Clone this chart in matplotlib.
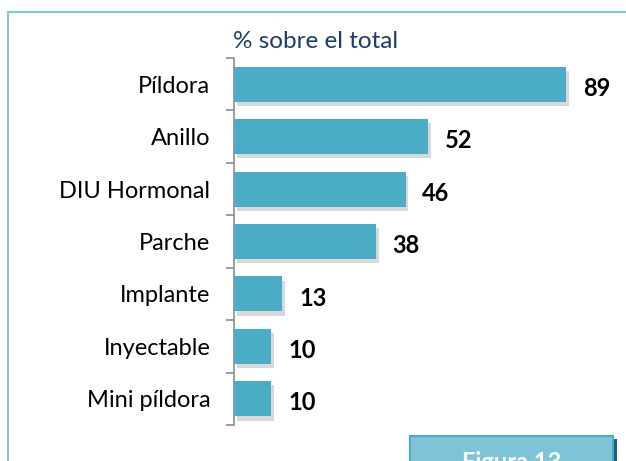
import matplotlib.pyplot as plt
import matplotlib.patheffects as pe
from matplotlib.patches import Rectangle

plt.rcParams['font.family'] = ['Lato', 'DejaVu Sans']

# datos
metodos = ['Píldora', 'Anillo', 'DIU Hormonal', 'Parche', 'Implante', 'Inyectable', 'Mini píldora']
valores = [89, 52, 46, 38, 13, 10, 10]

bar_color = '#4BACC6'

fig = plt.figure(figsize=(6.26, 4.61), dpi=100)
W, H = 626, 461

# marco exterior
fig.add_artist(Rectangle((8 / W, -0.1), 1.0, (H - 12) / H + 0.1, transform=fig.transFigure,
                         fill=False, edgecolor='#86C9D8', linewidth=1.5))

ax = fig.add_axes([234 / W, 1 - 425 / H, (607 - 234) / W, (425 - 58) / H])

y = list(range(len(metodos)))
bars = ax.barh(y, valores, height=0.67, color=bar_color, zorder=3)
for b in bars:
    b.set_path_effects([pe.SimplePatchShadow(offset=(2, -3), shadow_rgbFace='#808080', alpha=0.3),
                        pe.Normal()])

for yi, v in zip(y, valores):
    ax.text(v + 4.5, yi + 0.08, str(v), va='center', ha='left', fontsize=17, fontweight='bold', color='black')

ax.set_xlim(0, 100)
ax.set_ylim(len(metodos) - 0.5, -0.5)
ax.set_yticks([i - 0.5 for i in range(len(metodos) + 1)], minor=False)
ax.set_yticklabels([])
ax.set_yticks(y, minor=True)
ax.set_yticklabels(metodos, minor=True, fontsize=17)
ax.tick_params(axis='y', which='major', length=6, width=1.2, color='#8c8c8c', direction='out')
ax.tick_params(axis='y', which='minor', length=0, pad=17)
ax.set_xticks([])
for s in ['top', 'right', 'bottom']:
    ax.spines[s].set_visible(False)
ax.spines['left'].set_color('#8c8c8c')
ax.spines['left'].set_linewidth(1.2)

fig.text(233 / W, 1 - 41 / H, '% sobre el total', fontsize=17.5, color='#1F3A6E', ha='left', va='center')

# recuadro "Figura 13" cortado abajo
fig.add_artist(Rectangle((613 / W, -0.05), 4 / W, (H - 439) / H + 0.05, transform=fig.transFigure,
                         facecolor='#1F5F73', edgecolor='none'))
fig.add_artist(Rectangle((410 / W, -0.05), (613 - 410) / W, (H - 436) / H + 0.05, transform=fig.transFigure,
                         facecolor='#7EC4D6', edgecolor='#4BACC6', linewidth=1.5))
fig.text(512 / W, 1 - 451 / H, 'Figura 13', fontsize=17, fontweight='bold', color='white', ha='center', va='top')

fig.savefig('out.png', dpi=100)
